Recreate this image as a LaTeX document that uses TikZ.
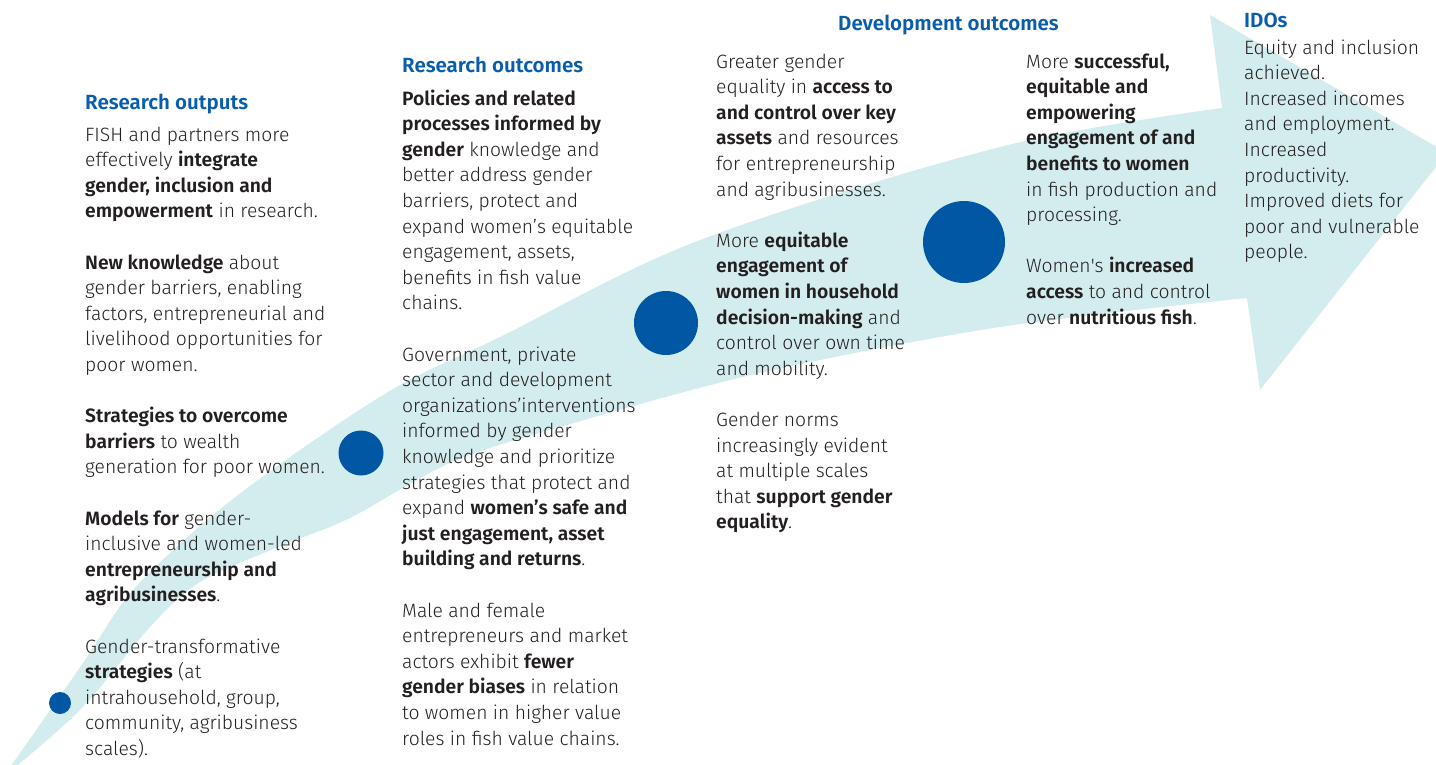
\documentclass[tikz,border=0pt]{standalone}
\usepackage{fontspec}
\setmainfont{Fira Sans Light}[BoldFont={Fira Sans SemiBold}]
\definecolor{bandcyan}{HTML}{D3ECEE}
\definecolor{dotblue}{HTML}{0058A5}
\definecolor{headblue}{HTML}{0A5DAA}
\definecolor{inkgray}{HTML}{231F20}
% one column of text, first baseline on the node's base anchor
\newcommand{\colbox}[1]{\parbox[t]{330pt}{\raggedright\fontsize{19.3}{25.6}\selectfont #1}}
\newcommand{\gap}{\\[25.6pt]}

\begin{document}
\begin{tikzpicture}[x=1pt,y=-1pt,
  head/.style={anchor=base west, inner sep=0pt, text=headblue, font=\bfseries\fontsize{20.5}{24}\selectfont},
  body/.style={anchor=base west, inner sep=0pt, text=inkgray},
  dot/.style={fill=dotblue}]
\useasboundingbox (0,0) rectangle (1436,764);
% the curved arrow
\begin{scope}
\clip (0,0) rectangle (1436,764);
\fill[bandcyan] plot[smooth,tension=0.55] coordinates {(2,778) (13,763) (83,663) (133,590) (213,515) (300,450) (400,385) (500,337) (700,240) (1000,147) (1222,108)}
  -- (1210,15) -- (1447,153) -- (1260,390)
  -- plot[smooth,tension=0.55] coordinates {(1247,298) (1000,327) (760,373) (560,427) (450,463) (350,518) (283,545) (200,582) (150,627) (80,710) (2,778)}
  -- cycle;
\end{scope}
\fill[dot] (60,703) circle (11);
\fill[dot] (361,453) circle (22.5);
\fill[dot] (666,323) circle (32);
\fill[dot] (964,242) circle (41);

% headings
\node[head] (outputshead) at (85,109) {Research outputs};
\node[head] (outcomeshead) at (402,72) {Research outcomes};
\node[head] (devhead) at (838,30) {Development outcomes};
\node[head] (idohead) at (1244,27) {IDOs};

% columns
\node[body] (outputs) at (85,141) {\colbox{FISH and partners more\\
effectively \textbf{integrate}\\
\textbf{gender, inclusion and}\\
\textbf{empowerment} in research.\gap
\textbf{New knowledge} about\\
gender barriers, enabling\\
factors, entrepreneurial and\\
livelihood opportunities for\\
poor women.\gap
\textbf{Strategies to overcome}\\
\textbf{barriers} to wealth\\
generation for poor women.\gap
\textbf{Models for} gender-\\
inclusive and women-led\\
\textbf{entrepreneurship and}\\
\textbf{agribusinesses}.\gap
Gender-transformative\\
\textbf{strategies} (at\\
intrahousehold, group,\\
community, agribusiness\\
scales).}};

\node[body] (outcomes) at (402,105) {\colbox{\textbf{Policies and related}\\
\textbf{processes informed by}\\
\textbf{gender} knowledge and\\
better address gender\\
barriers, protect and\\
expand women’s equitable\\
engagement, assets,\\
benefits in fish value\\
chains.\gap
Government, private\\
sector and development\\
organizations’interventions\\
informed by gender\\
knowledge and prioritize\\
strategies that protect and\\
expand \textbf{women’s safe and}\\
\textbf{just engagement, asset}\\
\textbf{building and returns}.\gap
Male and female\\
entrepreneurs and market\\
actors exhibit \textbf{fewer}\\
\textbf{gender biases} in relation\\
to women in higher value\\
roles in fish value chains.}};

\node[body] (devleft) at (716,68) {\colbox{Greater gender\\
equality in \textbf{access to}\\
\textbf{and control over key}\\
\textbf{assets} and resources\\
for entrepreneurship\\
and agribusinesses.\gap
More \textbf{equitable}\\
\textbf{engagement of}\\
\textbf{women in household}\\
\textbf{decision-making} and\\
control over own time\\
and mobility.\gap
Gender norms\\
increasingly evident\\
at multiple scales\\
that \textbf{support gender}\\
\textbf{equality}.}};

\node[body] (devright) at (1026,68) {\colbox{More \textbf{successful,}\\
\textbf{equitable and}\\
\textbf{empowering}\\
\textbf{engagement of and}\\
\textbf{benefits to women}\\
in fish production and\\
processing.\gap
Women\textquotesingle s \textbf{increased}\\
\textbf{access} to and control\\
over \textbf{nutritious fish}.}};

\node[body] (idos) at (1244,54) {\colbox{Equity and inclusion\\
achieved.\\
Increased incomes\\
and employment.\\
Increased\\
productivity.\\
Improved diets for\\
poor and vulnerable\\
people.}};
\end{tikzpicture}
\end{document}
